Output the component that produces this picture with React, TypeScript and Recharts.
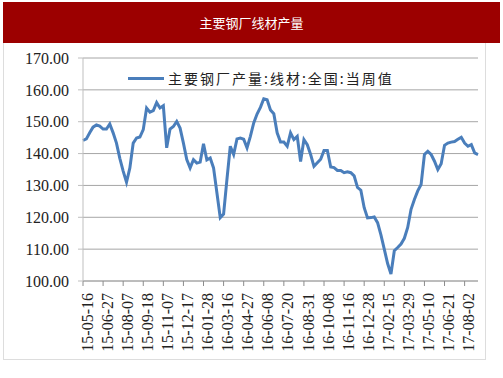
import React from 'react';
import { LineChart, Line, XAxis, YAxis, CartesianGrid } from 'recharts';

const dates = [
  '15-05-16', '15-05-23', '15-05-30', '15-06-06', '15-06-13', '15-06-20',
  '15-06-27', '15-07-04', '15-07-11', '15-07-18', '15-07-25', '15-07-31',
  '15-08-07', '15-08-14', '15-08-21', '15-08-28', '15-09-04', '15-09-11',
  '15-09-18', '15-09-25', '15-10-09', '15-10-16', '15-10-23', '15-10-30',
  '15-11-07', '15-11-13', '15-11-20', '15-11-27', '15-12-04', '15-12-11',
  '15-12-17', '15-12-24', '15-12-31', '16-01-07', '16-01-14', '16-01-21',
  '16-01-28', '16-02-04', '16-02-18', '16-02-25', '16-03-02', '16-03-09',
  '16-03-16', '16-03-23', '16-03-30', '16-04-06', '16-04-13', '16-04-20',
  '16-04-27', '16-05-04', '16-05-11', '16-05-18', '16-05-25', '16-06-01',
  '16-06-08', '16-06-15', '16-06-22', '16-06-29', '16-07-06', '16-07-13',
  '16-07-20', '16-07-27', '16-08-03', '16-08-10', '16-08-17', '16-08-24',
  '16-08-31', '16-09-07', '16-09-14', '16-09-21', '16-09-26', '16-09-30',
  '16-10-08', '16-10-12', '16-10-19', '16-10-26', '16-11-02', '16-11-09',
  '16-11-16', '16-11-23', '16-11-30', '16-12-07', '16-12-14', '16-12-21',
  '16-12-28', '17-01-04', '17-01-11', '17-01-18', '17-01-25', '17-02-08',
  '17-02-15', '17-02-22', '17-03-01', '17-03-08', '17-03-15', '17-03-22',
  '17-03-29', '17-04-05', '17-04-12', '17-04-19', '17-04-26', '17-05-03',
  '17-05-10', '17-05-17', '17-05-24', '17-05-31', '17-06-07', '17-06-14',
  '17-06-21', '17-06-28', '17-07-05', '17-07-12', '17-07-19', '17-07-26',
  '17-08-02', '17-08-09', '17-08-16', '17-08-23', '17-08-30',
];

const wireOutput = [
  144.1, 144.6, 146.5, 148.3, 149.0, 148.6, 147.7, 147.7, 149.3, 146.5,
  143.3, 138.5, 134.5, 131.0, 135.5, 143.3, 144.9, 145.2, 147.5, 154.3,
  153.0, 153.5, 156.0, 154.3, 155.0, 141.8, 147.7, 148.5, 150.1, 148.0,
  143.3, 138.1, 135.5, 138.1, 137.0, 137.3, 143.1, 138.0, 138.6, 135.5,
  127.7, 119.9, 121.0, 131.9, 142.3, 139.7, 144.6, 144.9, 144.5, 141.8,
  145.4, 149.6, 152.4, 154.5, 157.2, 156.9, 153.7, 152.5, 146.5, 143.6,
  143.6, 142.3, 146.5, 144.4, 145.4, 137.5, 144.4, 142.8, 139.7, 136.0,
  137.1, 138.2, 141.0, 141.0, 135.8, 135.6, 134.7, 134.7, 134.0, 134.3,
  134.0, 133.0, 129.4, 128.5, 123.0, 119.8, 119.9, 120.1, 118.3, 114.5,
  110.0, 105.5, 102.2, 109.5, 110.5, 111.6, 113.4, 116.8, 122.5, 125.6,
  128.3, 130.3, 139.7, 140.7, 139.7, 137.6, 135.0, 136.8, 142.6, 143.3,
  143.6, 143.8, 144.5, 145.1, 143.3, 142.3, 142.8, 140.2, 139.7,
];

const yTicks = [100, 110, 120, 130, 140, 150, 160, 170];

const title = '主要钢厂线材产量';
const seriesName = '主要钢厂产量:线材:全国:当周值';

const data = dates.map((d, i) => ({ date: d, value: wireOutput[i] }));

const serif = '"Liberation Serif", "Times New Roman", serif';
const cjk = '"Noto Sans CJK SC", sans-serif';

const XTick = (props: any) => {
  const { x, y, payload } = props;
  return (
    <text
      x={0}
      y={0}
      transform={`translate(${x + 4},${y + 5}) rotate(-90)`}
      textAnchor="end"
      dy="0.35em"
      fontSize={16}
      fontFamily={serif}
      fill="#222"
    >
      {payload.value}
    </text>
  );
};

export default function App() {
  return (
    <div style={{ position: 'absolute', left: 0, top: 0, width: 503, height: 378, background: '#fff' }}>
      <div
        style={{
          position: 'absolute', left: 3, top: 2, width: 497, height: 41,
          background: '#9C0000', color: '#fff', fontFamily: cjk, fontSize: 13,
          lineHeight: '41px', textAlign: 'center',
        }}
      >
        {title}
      </div>
      <div
        style={{
          position: 'absolute', left: 3, top: 43, width: 481, height: 316,
          border: '1px solid #DDDDDD', borderTop: 'none', boxSizing: 'content-box',
        }}
      />
      <div style={{ position: 'absolute', left: 0, top: 0 }}>
        <LineChart width={503} height={378} data={data} margin={{ top: 58, right: 25, left: 0, bottom: 27 }}>
          <CartesianGrid vertical={false} stroke="#A6A6A6" />
          <XAxis
            dataKey="date"
            interval={5}
            height={70}
            tick={<XTick />}
            tickSize={5}
            tickMargin={2}
            stroke="#A6A6A6"
            tickLine={{ stroke: '#8C8C8C' }}
          />
          <YAxis
            domain={[100, 170]}
            ticks={yTicks}
            width={83}
            tickFormatter={(v: number) => v.toFixed(2)}
            tickSize={5}
            tickMargin={9}
            stroke="#BFBFBF"
            tick={{ fontSize: 16, fontFamily: serif, fill: '#222' }}
          />
          <Line
            type="linear"
            dataKey="value"
            stroke="#4A7EBB"
            strokeWidth={3}
            dot={false}
            isAnimationActive={false}
          />
        </LineChart>
      </div>
      <div style={{ position: 'absolute', left: 128, top: 69, display: 'flex', alignItems: 'center', height: 18 }}>
        <div style={{ width: 36, height: 3, background: '#4A7EBB', marginRight: 4 }} />
        <span style={{ fontFamily: cjk, fontSize: 14, letterSpacing: 2, color: '#222', whiteSpace: 'nowrap' }}>
          {seriesName}
        </span>
      </div>
    </div>
  );
}
